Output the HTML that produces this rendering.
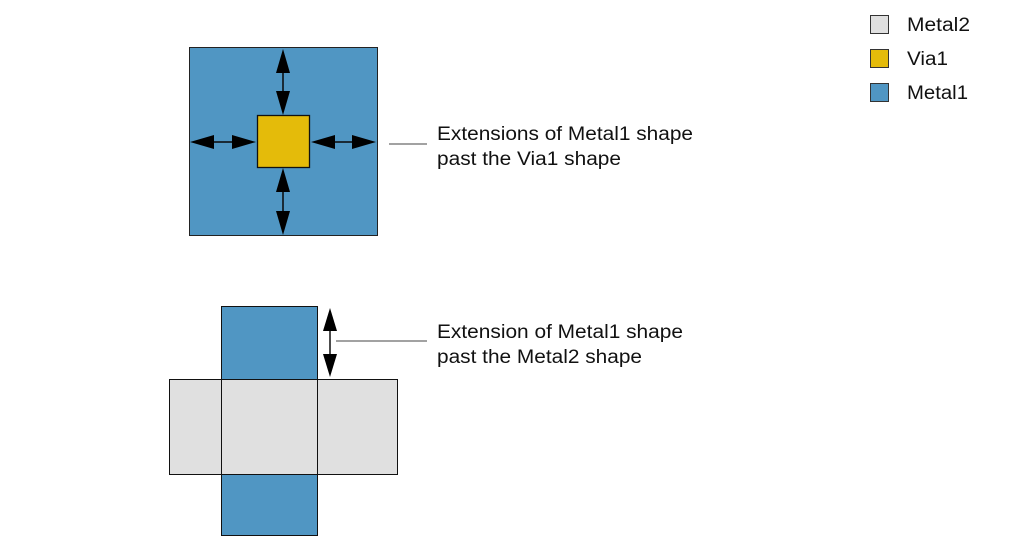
<!DOCTYPE html>
<html><head><meta charset="utf-8"><style>
html,body{margin:0;padding:0;background:#fff;}
svg{display:block;}
text{font-family:"Liberation Sans",sans-serif;font-size:19px;fill:#111;}
</style></head><body>
<svg width="1013" height="551" viewBox="0 0 1013 551" xmlns="http://www.w3.org/2000/svg">
<rect x="189.5" y="47.5" width="188" height="188" fill="#5096c3" stroke="#222" stroke-width="1"/>
<rect x="257.5" y="115.5" width="52" height="52" fill="#e4bb0a" stroke="#111" stroke-width="1.3"/>
<g stroke="#1a2a35" stroke-width="2">
<line x1="283" y1="60" x2="283" y2="105"/>
<line x1="283" y1="178" x2="283" y2="224"/>
<line x1="200" y1="142" x2="246" y2="142"/>
<line x1="320" y1="142" x2="366" y2="142"/>
</g>
<g fill="#000">
<polygon points="283,49 276,73 290,73"/>
<polygon points="283,115 276,91 290,91"/>
<polygon points="283,168 276,192 290,192"/>
<polygon points="283,235 276,211 290,211"/>
<polygon points="190,142 214,135 214,149"/>
<polygon points="256,142 232,135 232,149"/>
<polygon points="311,142 335,135 335,149"/>
<polygon points="376,142 352,135 352,149"/>
</g>
<line x1="389" y1="144" x2="427" y2="144" stroke="#444" stroke-width="1"/>
<text x="437" y="140" textLength="256" lengthAdjust="spacingAndGlyphs">Extensions of Metal1 shape</text>
<text x="437" y="165" textLength="184" lengthAdjust="spacingAndGlyphs">past the Via1 shape</text>
<rect x="221.5" y="306.5" width="96" height="229" fill="#5096c3" stroke="#111" stroke-width="1"/>
<rect x="169.5" y="379.5" width="228" height="95" fill="#e0e0e0" stroke="#111" stroke-width="1"/>
<line x1="221.5" y1="379.5" x2="221.5" y2="474.5" stroke="#111" stroke-width="1"/>
<line x1="317.5" y1="379.5" x2="317.5" y2="474.5" stroke="#111" stroke-width="1"/>
<line x1="330" y1="318" x2="330" y2="366" stroke="#111" stroke-width="1.5"/>
<polygon points="330,308 323,331 337,331" fill="#000"/>
<polygon points="330,377 323,354 337,354" fill="#000"/>
<line x1="336" y1="341" x2="427" y2="341" stroke="#444" stroke-width="1"/>
<text x="437" y="338" textLength="246" lengthAdjust="spacingAndGlyphs">Extension of Metal1 shape</text>
<text x="437" y="363" textLength="205" lengthAdjust="spacingAndGlyphs">past the Metal2 shape</text>
<rect x="870.5" y="15.5" width="18" height="18" fill="#e0e0e0" stroke="#333" stroke-width="1"/>
<rect x="870.5" y="49.5" width="18" height="18" fill="#e4bb0a" stroke="#333" stroke-width="1"/>
<rect x="870.5" y="83.5" width="18" height="18" fill="#5096c3" stroke="#333" stroke-width="1"/>
<text x="907" y="31" textLength="63" lengthAdjust="spacingAndGlyphs">Metal2</text>
<text x="907" y="65" textLength="41" lengthAdjust="spacingAndGlyphs">Via1</text>
<text x="907" y="99" textLength="61" lengthAdjust="spacingAndGlyphs">Metal1</text>
</svg>
</body></html>
